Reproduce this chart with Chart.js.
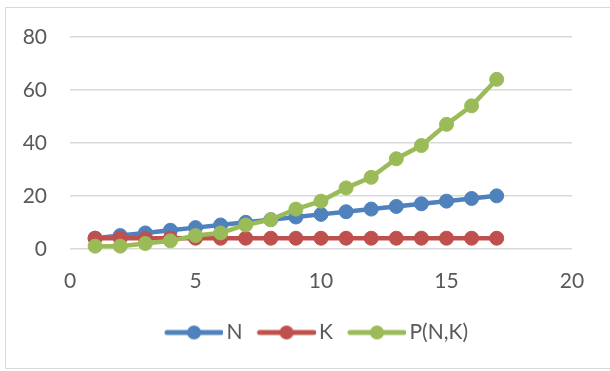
<!DOCTYPE html>
<html>
<head>
<meta charset="utf-8">
<script src="https://cdn.jsdelivr.net/npm/chart.js@4/dist/chart.umd.min.js"></script>
<style>
  html, body { margin: 0; padding: 0; background: #ffffff; }
  #wrap { position: relative; width: 610px; height: 371px; overflow: hidden; }
  #frame { position: absolute; left: 5px; top: 7px; width: 620px; height: 362px; border: 1px solid #d9d9d9; box-sizing: border-box; }
  #chart { position: absolute; left: 0; top: 0; }
</style>
</head>
<body>
<div id="wrap">
  <div id="frame"></div>
  <canvas id="chart" width="610" height="371"></canvas>
</div>
<script>
// Series values, one entry per x position
const xValues = [1, 2, 3, 4, 5, 6, 7, 8, 9, 10, 11, 12, 13, 14, 15, 16, 17];
const nValues = [4, 5, 6, 7, 8, 9, 10, 11, 12, 13, 14, 15, 16, 17, 18, 19, 20];
const kValues = [4, 4, 4, 4, 4, 4, 4, 4, 4, 4, 4, 4, 4, 4, 4, 4, 4];
const pValues = [1, 1, 2, 3, 5, 6, 9, 11, 15, 18, 23, 27, 34, 39, 47, 54, 64];
const yTickLabels = ['0', '20', '40', '60', '80'];
const seriesNames = ['N', 'K', 'P(N,K)'];
const seriesColors = ['#4F81BD', '#C0504D', '#9BBB59'];

const FONT = "Lato, 'Open Sans', sans-serif";
const FONT_SIZE = 21;
const TEXT = '#595959';
const Y_LABEL_GAP = 23;   // space between y labels and the plot

function toPoints(ys) {
  return xValues.map((x, i) => ({ x: x, y: ys[i] }));
}

// widest y tick label, measured with the same font string the axis uses
const measureCtx = document.createElement('canvas').getContext('2d');
measureCtx.font = 'normal ' + FONT_SIZE + 'px ' + FONT;
const widestYLabel = Math.max(...yTickLabels.map(t => measureCtx.measureText(t).width));

// Legend swatch: a short line with a marker in the middle
function makeSwatch(color) {
  const c = document.createElement('canvas');
  c.width = 72; c.height = 18;
  const g = c.getContext('2d');
  g.strokeStyle = color;
  g.lineWidth = 5;
  g.lineCap = 'round';
  g.beginPath();
  g.moveTo(16, 9); g.lineTo(70, 9);
  g.stroke();
  g.fillStyle = color;
  g.beginPath();
  g.arc(43, 9, 7, 0, Math.PI * 2);
  g.fill();
  return c;
}
const swatches = seriesColors.map(makeSwatch);

const seriesValues = [nValues, kValues, pValues];
const datasets = seriesValues.map((vals, i) => ({
  label: seriesNames[i],
  data: toPoints(vals),
  showLine: true,
  borderColor: seriesColors[i],
  backgroundColor: seriesColors[i],
  borderWidth: 4.5,
  pointRadius: 7,
  pointBorderWidth: 1,
  pointBorderColor: seriesColors[i],
  pointBackgroundColor: seriesColors[i],
  order: 2 - i,
  clip: false
}));

new Chart(document.getElementById('chart'), {
  type: 'scatter',
  data: { datasets: datasets },
  options: {
    responsive: false,
    animation: false,
    layout: { padding: { left: 54, right: 38, top: 37, bottom: 18 } },
    plugins: {
      tooltip: { enabled: false },
      legend: {
        position: 'bottom',
        labels: {
          usePointStyle: true,
          pointStyleWidth: 58,
          padding: 8,
          color: TEXT,
          font: { family: FONT, size: FONT_SIZE },
          generateLabels: (chart) => chart.data.datasets.map((ds, i) => ({
            text: ds.label,
            fillStyle: ds.borderColor,
            strokeStyle: ds.borderColor,
            fontColor: TEXT,
            lineWidth: 0,
            pointStyle: swatches[i],
            hidden: false,
            datasetIndex: i
          }))
        }
      }
    },
    scales: {
      x: {
        type: 'linear',
        min: 0, max: 20,
        border: { display: false },
        grid: { display: false, drawTicks: false },
        ticks: { stepSize: 5, padding: 20, color: TEXT, font: { family: FONT, size: FONT_SIZE } }
      },
      y: {
        type: 'linear',
        min: 0, max: 80,
        border: { display: false },
        grid: { color: '#d9d9d9', lineWidth: 1.5, drawTicks: false },
        ticks: {
          stepSize: 20,
          mirror: true,
          crossAlign: 'far',
          padding: -(Y_LABEL_GAP + widestYLabel),
          color: TEXT,
          font: { family: FONT, size: FONT_SIZE },
          callback: (v) => yTickLabels[yTickLabels.indexOf(String(v))] ?? String(v)
        },
        // narrow axis box; the right-aligned labels sit to its left
        afterFit: (scale) => { scale.width = 16; }
      }
    }
  }
});
</script>
</body>
</html>
